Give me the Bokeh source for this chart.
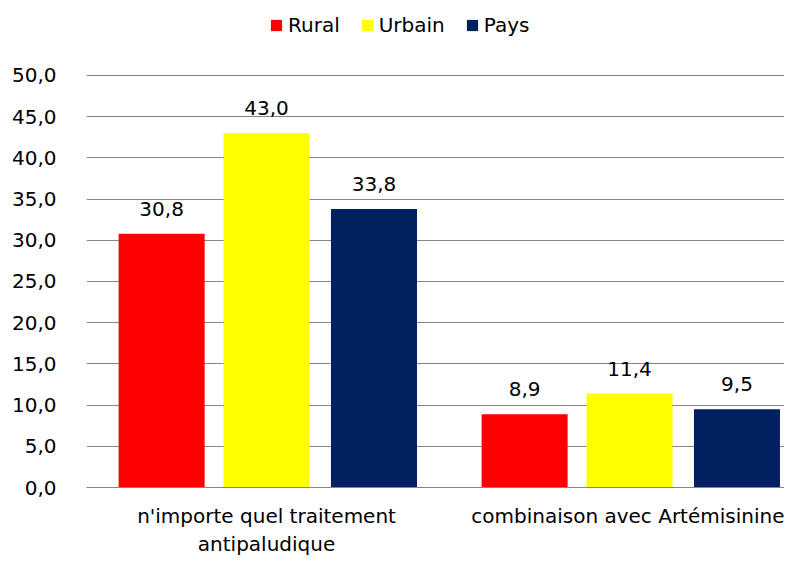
from bokeh.plotting import figure
from bokeh.models import ColumnDataSource, FixedTicker, Legend, LegendItem, LabelSet
from bokeh.embed import file_html
from bokeh.resources import INLINE
from bokeh.core.properties import value

categories = ["n'importe quel traitement\nantipaludique", "combinaison avec Artémisinine"]
series_names = ["Rural", "Urbain", "Pays"]
rural = [30.8, 8.9]
urbain = [43.0, 11.4]
pays = [33.8, 9.5]
colors = ["#FF0000", "#FFFF00", "#002060"]
y_ticks = [0, 5, 10, 15, 20, 25, 30, 35, 40, 45, 50]

FONT = "DejaVu Sans"
FS = "20px"

# frame extends to the top of the figure so the legend is drawn inside it
p = figure(frame_width=698, frame_height=487, x_range=(-0.496, 1.427), y_range=(0, 59.1),
           output_backend="svg", toolbar_location=None,
           min_border_left=86, min_border_right=0, min_border_bottom=64, min_border_top=0,
           outline_line_color=None)

offsets = [-0.289, 0.0, 0.296]
bar_w = 0.237
items = []
for name, vals, col, off in zip(series_names, [rural, urbain, pays], colors, offsets):
    xs = [i + off for i in range(len(categories))]
    src = ColumnDataSource(dict(x=xs, top=vals, lab=[f"{v:.1f}".replace(".", ",") for v in vals]))
    r = p.vbar(x="x", top="top", width=bar_w, source=src, fill_color=col, line_color=None)
    items.append(LegendItem(label=name, renderers=[r]))
    lbl = LabelSet(x="x", y="top", text="lab", source=src, text_align="center",
                   text_baseline="bottom", y_offset=18, text_font=value(FONT),
                   text_font_size=FS, text_color="#000000")
    p.add_layout(lbl)

legend = Legend(items=items, orientation="horizontal", location=(183, 450),
                label_text_font=FONT, label_text_font_size=FS, label_text_color="#000000",
                glyph_width=14, glyph_height=14, label_standoff=5, spacing=20,
                border_line_color=None, background_fill_alpha=0, margin=0, padding=4)
p.add_layout(legend)

p.yaxis.ticker = FixedTicker(ticks=y_ticks)
p.yaxis.major_label_overrides = {t: f"{t:.1f}".replace(".", ",") for t in y_ticks}
p.yaxis.axis_line_color = None
p.yaxis.major_tick_line_color = None
p.yaxis.minor_tick_line_color = None
p.yaxis.major_label_text_font = FONT
p.yaxis.major_label_text_font_size = FS
p.yaxis.major_label_text_color = "#000000"
p.yaxis.major_label_standoff = 24

p.xaxis.ticker = FixedTicker(ticks=list(range(len(categories))))
p.xaxis.major_label_overrides = {i: c for i, c in enumerate(categories)}
p.xaxis.axis_line_color = "#868686"
p.xaxis.major_tick_line_color = None
p.xaxis.minor_tick_line_color = None
p.xaxis.major_label_text_font = FONT
p.xaxis.major_label_text_font_size = FS
p.xaxis.major_label_text_color = "#000000"
p.xaxis.major_label_standoff = 10

p.xgrid.grid_line_color = None
p.ygrid.ticker = FixedTicker(ticks=y_ticks)
p.ygrid.grid_line_color = "#868686"

open("out.html", "w").write(file_html(p, INLINE))
